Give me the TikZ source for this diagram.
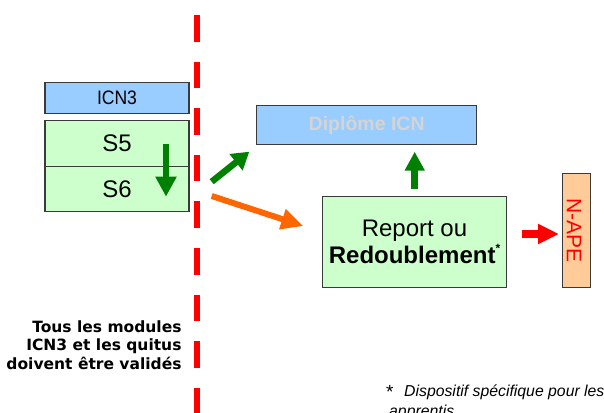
\documentclass[tikz,border=0pt]{standalone}
\usepackage{fontspec}
\setmainfont{Liberation Sans}
\newfontfamily\dejavu{DejaVu Sans}
\usetikzlibrary{arrows.meta}
\definecolor{boxline}{HTML}{3A3A3A}
\definecolor{lblue}{HTML}{99CCFF}
\definecolor{lgreen}{HTML}{CCFFCC}
\definecolor{lorange}{HTML}{FFCC99}
\definecolor{dgreen}{HTML}{008000}
\definecolor{orng}{HTML}{FF6600}
\definecolor{pale}{HTML}{D4D4D4}
\begin{document}
\begin{tikzpicture}[x=1pt,y=-1pt,
  box/.style={draw=boxline,line width=1.1pt,inner sep=0pt,outer sep=0pt,align=center},
  redline/.style={draw=red,line width=6pt,dash pattern=on 26.6pt off 20pt}]
\clip (0,0) rectangle (604,412);
\fill[white] (0,0) rectangle (604,412);

% dashed separator
\draw[redline] (196.7,15) -- (196.7,420);

% left boxes
\node[box,fill=lblue,minimum width=144pt,minimum height=30.5pt,
  font=\fontsize{19.5}{22}\selectfont] (icn) at (117,98) {\scalebox{0.9}[1]{ICN3}};
\node[box,fill=lgreen,minimum width=144pt,minimum height=46pt,
  font=\fontsize{24}{26}\selectfont] (s5) at (117,143.7) {S5};
\node[box,fill=lgreen,minimum width=144pt,minimum height=45pt,
  font=\fontsize{24}{26}\selectfont] (s6) at (117,189.2) {S6};

% diplome
\node[box,fill=lblue,minimum width=220pt,minimum height=38.3pt,text=pale,
  font=\bfseries\fontsize{19.5}{22}\selectfont] (dip) at (366.7,124.9) {Diplôme ICN};

% report
\node[box,fill=lgreen,minimum width=184.4pt,minimum height=90.6pt,
  font=\fontsize{24}{27.3}\selectfont] (rep) at (414.5,242)
  {Report ou\\\textbf{Redoublement}\raisebox{0.45em}{\fontsize{12}{12}\selectfont\textbf{*}}};

% N-APE
\node[box,fill=lorange,minimum width=27.3pt,minimum height=114pt] (nape) at (576.4,230.3) {};
\node[text=red,rotate=-90,inner sep=0pt,font=\fontsize{21}{24}\selectfont] (napet) at (574,230.3) {N-APE};

% arrow endpoints
\coordinate (a1s) at (166,144);
\coordinate (a1e) at (166,196.7);
\coordinate (a2s) at (211.7,181.7);
\coordinate (a2e) at (249.3,151.7);
\coordinate (a3s) at (211.7,196);
\coordinate (a3e) at (303.3,226);
\coordinate (a4s) at (414.7,189);
\coordinate (a4e) at (414.7,151.7);
\coordinate (a5s) at (521.7,234);
\coordinate (a5e) at (559,234);

\draw[dgreen,line width=6pt,-{Triangle[length=20pt,width=20pt]}] (a1s) -- (a1e);
\draw[dgreen,line width=6.5pt,-{Triangle[length=17pt,width=20pt]}] (a2s) -- (a2e);
\draw[orng,line width=6pt,-{Triangle[length=22pt,width=20pt]}] (a3s) -- (a3e);
\draw[dgreen,line width=7pt,-{Triangle[length=19pt,width=19pt]}] (a4s) -- (a4e);
\draw[red,line width=8pt,-{Triangle[length=21pt,width=19pt]}] (a5s) -- (a5e);

% bottom-left text
\node[anchor=base east,align=right,inner sep=0pt,
  font=\dejavu\bfseries\fontsize{15.5}{18.5}\selectfont] (note) at (181.7,369)
  {Tous les modules\\ICN3 et les quitus\\doivent être validés};

% footnote
\node[anchor=base west,inner sep=0pt,font=\fontsize{19}{20}\selectfont] (star) at (386,398) {*};
\node[anchor=base west,inner sep=0pt,font=\itshape\fontsize{15.8}{20}\selectfont] (foot1) at (404,396.7) {Dispositif spécifique pour les};
\node[anchor=base west,inner sep=0pt,font=\itshape\fontsize{15.8}{20}\selectfont] (foot2) at (389,416.7) {apprentis};
\end{tikzpicture}
\end{document}
